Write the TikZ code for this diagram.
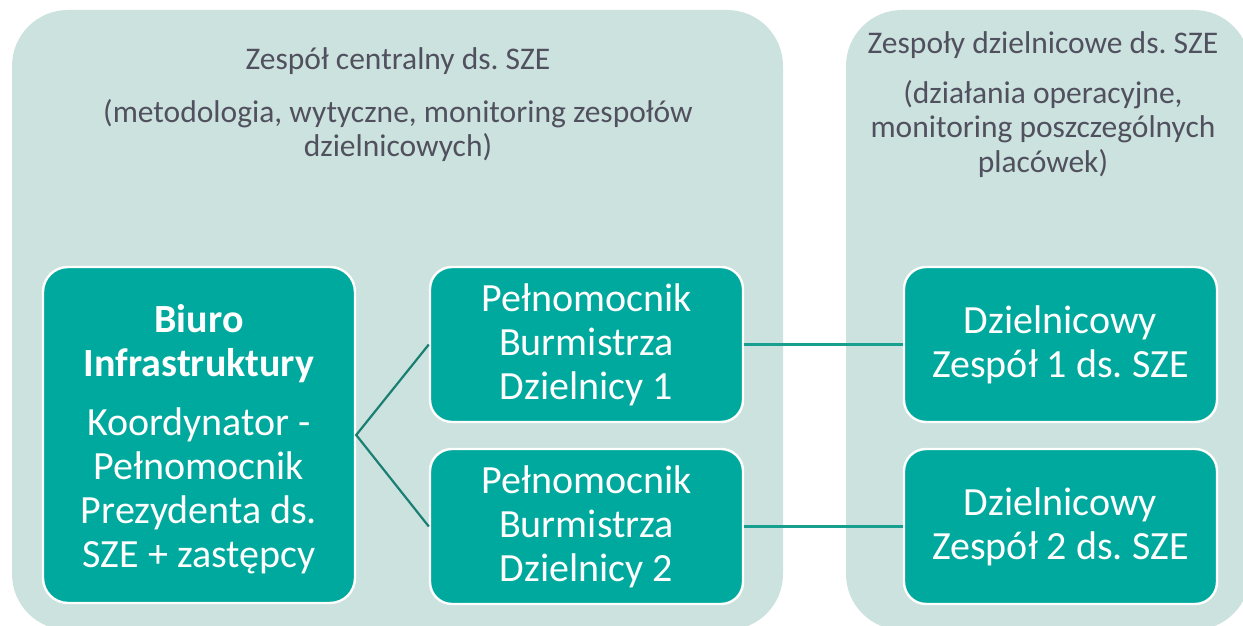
\documentclass[tikz,border=0pt]{standalone}
\usepackage{fontspec}
\setmainfont{Carlito}
\frenchspacing
\definecolor{panelbg}{HTML}{CCE2DE}
\definecolor{boxteal}{HTML}{00A99D}
\definecolor{paneltext}{HTML}{50505F}
\definecolor{forkline}{HTML}{1A7F73}
\definecolor{linkline}{HTML}{17A090}
\begin{document}
\begin{tikzpicture}[x=1pt,y=-1pt,
  panel/.style={fill=panelbg,draw=none,rounded corners=56pt},
  paneltitle/.style={text=paneltext,font=\fontsize{31.5}{34.5}\selectfont,align=center,inner sep=0pt},
  unitbox/.style={fill=boxteal,draw=white,line width=2.4pt,rounded corners=22pt,
    text=white,font=\fontsize{40}{44}\selectfont,align=center,inner sep=0pt,
    minimum width=313pt,minimum height=155pt},
  fork/.style={draw=forkline,line width=2.2pt},
  link/.style={draw=linkline,line width=2.2pt}]
\useasboundingbox (0,0) rectangle (1243,626);

% background panels
\path[panel] (12,10) rectangle (783,630);
\path[panel] (846,10) rectangle (1250,630);

% panel headings
\node[paneltitle,anchor=base] (ctitle) at (398,70) {Zespół centralny ds. SZE};
\node[paneltitle,anchor=north] (cdesc) at (398,99) {(metodologia, wytyczne, monitoring zespołów\\dzielnicowych)};
\node[paneltitle,anchor=base] (dtitle) at (1043,54) {Zespoły dzielnicowe ds. SZE};
\node[paneltitle,anchor=north] (ddesc) at (1043,80) {(działania operacyjne,\\monitoring poszczególnych\\placówek)};

% organisational units
\node[unitbox,minimum width=312pt,minimum height=336pt,rounded corners=25pt] (biuro) at (199,435)
  {\textbf{Biuro}\\\textbf{Infrastruktury}\\[15pt]Koordynator -\\Pełnomocnik\\Prezydenta ds.\\SZE + zastępcy\\[-46pt]\mbox{}};
\node[unitbox] (pb1) at (586.5,344.5) {Pełnomocnik\\Burmistrza\\Dzielnicy 1};
\node[unitbox] (pb2) at (586.5,526.5) {Pełnomocnik\\Burmistrza\\Dzielnicy 2};
\node[unitbox] (dz1) at (1060.5,344.5) {Dzielnicowy\\Zespół 1 ds. SZE};
\node[unitbox] (dz2) at (1060.5,526.5) {Dzielnicowy\\Zespół 2 ds. SZE};

% connectors
\draw[fork] (pb1.west) -- (biuro.east) -- (pb2.west);
\draw[link] (pb1.east) -- (dz1.west);
\draw[link] (pb2.east) -- (dz2.west);
\end{tikzpicture}
\end{document}
